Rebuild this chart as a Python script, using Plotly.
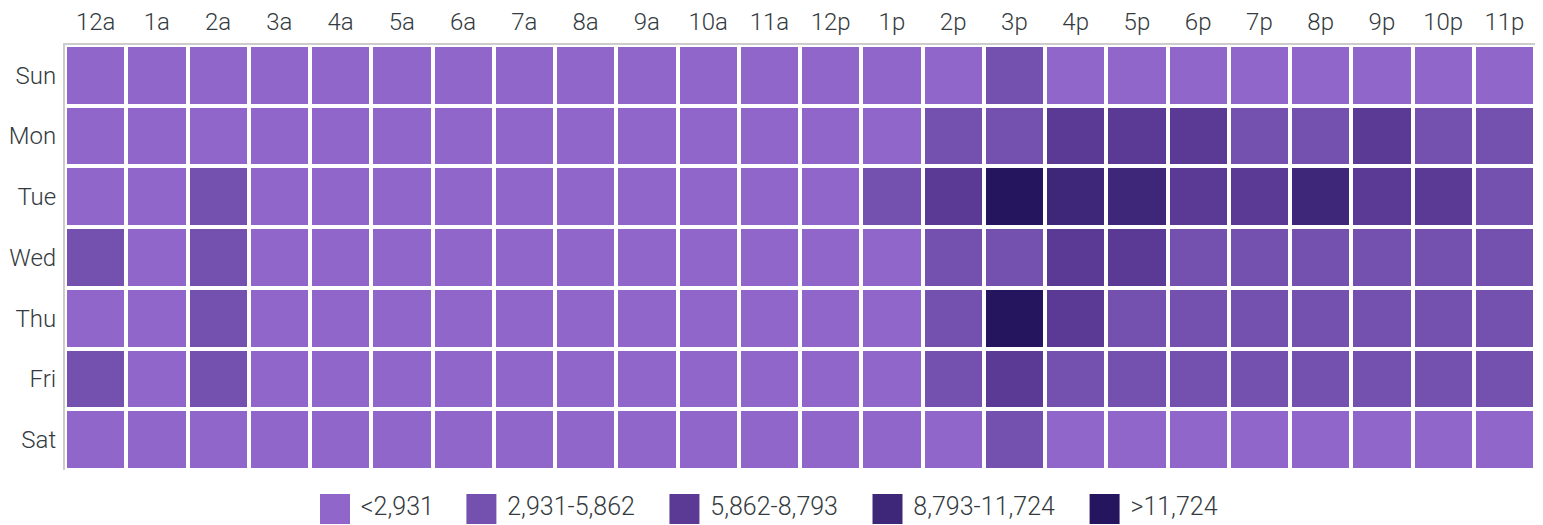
import plotly.graph_objects as go

hours = ["12a", "1a", "2a", "3a", "4a", "5a", "6a", "7a", "8a", "9a", "10a", "11a",
         "12p", "1p", "2p", "3p", "4p", "5p", "6p", "7p", "8p", "9p", "10p", "11p"]
days = ["Sun", "Mon", "Tue", "Wed", "Thu", "Fri", "Sat"]

sun = [1900, 1700, 1600, 1500, 1400, 1450, 1500, 1650, 1800, 2000, 2200, 2300,
       2400, 2500, 2600, 3200, 2700, 2600, 2500, 2400, 2300, 2200, 2100, 2000]
mon = [2100, 1800, 1700, 1500, 1400, 1500, 1700, 1900, 2100, 2300, 2500, 2600,
       2700, 2800, 3400, 4500, 6900, 7600, 7100, 5200, 5600, 7300, 4800, 4200]
tue = [2300, 2100, 3500, 1600, 1500, 1500, 1700, 2000, 2200, 2400, 2600, 2700,
       2800, 4400, 7200, 14655, 9800, 10300, 7400, 7900, 9900, 7600, 6900, 5400]
wed = [3300, 2200, 3400, 1600, 1500, 1500, 1700, 2000, 2200, 2400, 2600, 2700,
       2800, 2900, 4300, 5100, 7000, 7500, 5300, 5200, 5000, 5100, 4700, 4200]
thu = [2600, 2300, 3500, 1600, 1500, 1500, 1700, 2000, 2200, 2400, 2600, 2700,
       2800, 2900, 4700, 12800, 7200, 5600, 5300, 5100, 5400, 4900, 4500, 4300]
fri = [3600, 2400, 3300, 1700, 1500, 1500, 1700, 2000, 2200, 2400, 2600, 2700,
       2800, 2900, 4500, 6600, 5400, 5100, 5000, 4800, 5200, 4900, 4600, 4100]
sat = [2000, 1800, 1700, 1500, 1400, 1400, 1500, 1600, 1800, 2000, 2200, 2300,
       2400, 2500, 2600, 3100, 2600, 2500, 2400, 2300, 2200, 2100, 2000, 1900]

bin_step = 2931
bin_labels = ["<2,931", "2,931-5,862", "5,862-8,793", "8,793-11,724", ">11,724"]
bin_colors = ["#9166CB", "#7450AF", "#5B3A96", "#3E2778", "#24155E"]

z = [sun, mon, tue, wed, thu, fri, sat]
nb = len(bin_colors)
zmax = bin_step * nb

colorscale = []
for i, c in enumerate(bin_colors):
    colorscale.append([i / nb, c])
    colorscale.append([(i + 1) / nb, c])

FONT = "Roboto, 'Helvetica Neue', Arial, sans-serif"
TXT = "#333a40"
FS = 24
LFS = 25

fig = go.Figure()
fig.add_trace(go.Heatmap(
    z=z, x=hours, y=days, zmin=0, zmax=zmax,
    colorscale=colorscale, showscale=False,
    xgap=4, ygap=4, hoverinfo="skip",
    xaxis="x", yaxis="y",
))

# custom legend row: squares with labels, positioned by approximate text width
def text_width(s, size=LFS):
    w = 0
    for ch in s:
        if ch.isdigit():
            w += 0.5615
        elif ch == ",":
            w += 0.25
        elif ch == "-":
            w += 0.33
        else:
            w += 0.56
    return w * size

W, H = 1543, 525
sq = 30
lead = 8
spacing = 32
widths = [sq + lead + text_width(t) for t in bin_labels]
plot_l, plot_r = 65, 1535
plot_t, plot_b = 45, 470
start = 320
lx = []
x = start
for w in widths:
    lx.append(x + sq / 2)
    x += w + spacing

fig.add_trace(go.Scatter(
    x=lx, y=[0] * nb, mode="markers+text",
    marker=dict(symbol="square", size=sq, color=bin_colors, line=dict(width=0)),
    text=[" " + t for t in bin_labels], textposition="middle right",
    textfont=dict(family=FONT, size=LFS, color=TXT, weight=300),
    hoverinfo="skip", showlegend=False,
    xaxis="x2", yaxis="y2", cliponaxis=False,
))

area_h = H - plot_t
leg_c = 509
fig.update_layout(
    width=W, height=H,
    margin=dict(l=plot_l, r=W - plot_r, t=plot_t, b=0),
    paper_bgcolor="white", plot_bgcolor="white",
    font=dict(family=FONT, size=FS, color=TXT, weight=300),
    showlegend=False,
    xaxis=dict(side="top", showgrid=False, zeroline=False, ticks="",
               showline=True, linecolor="#cccccc", linewidth=2,
               tickfont=dict(size=FS), ticklabelstandoff=3, automargin=False,
               domain=[0, 1]),
    yaxis=dict(autorange="reversed", showgrid=False, zeroline=False, ticks="",
               showline=True, linecolor="#cccccc", linewidth=2,
               tickfont=dict(size=FS), ticklabelstandoff=2, automargin=False,
               domain=[(H - plot_b) / area_h, 1]),
    xaxis2=dict(range=[plot_l, plot_r], domain=[0, 1], visible=False, anchor="y2",
                automargin=False),
    yaxis2=dict(range=[-1, 1], domain=[0, 2 * (H - leg_c) / area_h], visible=False,
                anchor="x2", automargin=False),
)

fig.write_html("out.html",
               config={"displayModeBar": False, "staticPlot": True},
               post_script="document.body.style.margin='0px';document.body.style.overflow='hidden';")
